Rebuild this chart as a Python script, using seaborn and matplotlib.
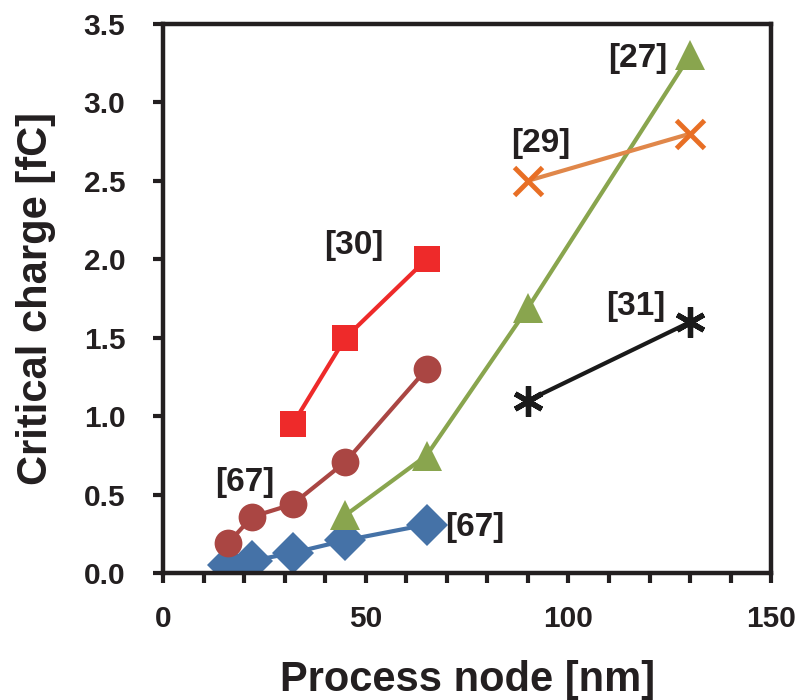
import numpy as np
import pandas as pd
import matplotlib
matplotlib.use('Agg')
import matplotlib.pyplot as plt
import seaborn as sns
from matplotlib.ticker import MultipleLocator, FormatStrFormatter

# データ
node_67a = [16, 22, 32, 45, 65]
qc_67a = [0.05, 0.08, 0.13, 0.21, 0.31]

node_67b = [16, 22, 32, 45, 65]
qc_67b = [0.19, 0.36, 0.44, 0.71, 1.30]

node_30 = [32, 45, 65]
qc_30 = [0.95, 1.50, 2.00]

node_27 = [45, 65, 90, 130]
qc_27 = [0.37, 0.75, 1.69, 3.30]

node_29 = [90, 130]
qc_29 = [2.50, 2.80]

node_31 = [90, 130]
qc_31 = [1.10, 1.60]

sns.set_style('white')
plt.rcParams['font.family'] = ['Liberation Sans', 'DejaVu Sans']
plt.rcParams['font.weight'] = 'bold'

ink = '#231F20'

fig = plt.figure(figsize=(7.95, 7.0), dpi=100)
ax = fig.add_axes([0.205, 0.181, 0.765, 0.785])

# (x, y, 線の色, マーカー色, マーカー, サイズ, 線幅)
series = [
    (node_67a, qc_67a, '#4572A7', '#4572A7', 'D', 21, 0),
    (node_67b, qc_67b, '#AA4643', '#AA4643', 'o', 20, 0),
    (node_30, qc_30, '#EE2A2A', '#EE2A2A', 's', 19, 0),
    (node_27, qc_27, '#89A54E', '#89A54E', '^', 21, 0),
    (node_29, qc_29, '#E0874A', '#E86F25', 'x', 20, 3.5),
    (node_31, qc_31, '#1A1A1A', '#1A1A1A', (6, 2, 0), 22, 3.8),
]

for xs, ys, lc, mc, mk, ms, mew in series:
    df = pd.DataFrame({'node': xs, 'qc': ys})
    sns.lineplot(data=df, x='node', y='qc', ax=ax, color=lc, linewidth=3,
                 marker=mk, markersize=ms, markerfacecolor=mc,
                 markeredgecolor=mc, markeredgewidth=mew)

# 文献番号
lab_kw = dict(fontsize=24, fontweight='bold', color=ink, va='center')
ax.text(124.3, 3.28, '[27]', ha='right', **lab_kw)
ax.text(100.5, 2.74, '[29]', ha='right', **lab_kw)
ax.text(54.4, 2.09, '[30]', ha='right', **lab_kw)
ax.text(123.8, 1.70, '[31]', ha='right', **lab_kw)
ax.text(27.5, 0.58, '[67]', ha='right', **lab_kw)
ax.text(69.6, 0.29, '[67]', ha='left', **lab_kw)

ax.set_xlim(0, 150)
ax.set_ylim(0, 3.5)
ax.xaxis.set_major_locator(MultipleLocator(50))
ax.xaxis.set_minor_locator(MultipleLocator(10))
ax.yaxis.set_major_locator(MultipleLocator(0.5))
ax.yaxis.set_major_formatter(FormatStrFormatter('%.1f'))

for sp in ax.spines.values():
    sp.set_linewidth(3.2)
    sp.set_color(ink)

ax.tick_params(axis='x', which='both', direction='out', length=7, width=3,
               labelsize=21.5, pad=16, colors=ink)
ax.tick_params(axis='y', which='major', direction='out', length=7, width=3,
               labelsize=21.5, pad=20, colors=ink)
ax.tick_params(bottom=True, left=True, which='both')

ax.set_xlabel('Process node [nm]', fontsize=30, fontweight='bold', labelpad=19,
              color=ink)
ax.set_ylabel('Critical charge [fC]', fontsize=30, fontweight='bold', labelpad=20,
              color=ink)

fig.savefig('out.png', dpi=100)
